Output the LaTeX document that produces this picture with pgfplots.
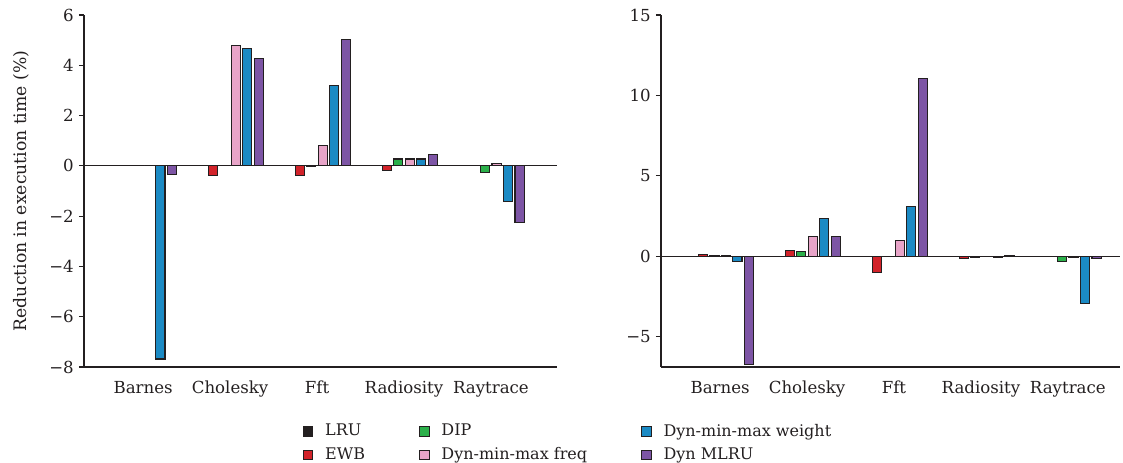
\documentclass[border=0pt]{standalone}
\usepackage{pgfplots}
\pgfplotsset{compat=1.18}
\usepackage{pgfplotstable}
\usepackage{fontspec}
\setmainfont{DejaVu Serif}

\definecolor{cLRU}{HTML}{231F20}
\definecolor{cEWB}{HTML}{D2232A}
\definecolor{cDIP}{HTML}{2BB04A}
\definecolor{cFreq}{HTML}{E8A4C8}
\definecolor{cWeight}{HTML}{1B8AC4}
\definecolor{cMLRU}{HTML}{7D55A5}
\definecolor{axisgray}{HTML}{231F20}

% Reduction in execution time (%) per benchmark, two configurations
\pgfplotstableread{
x  LRU   EWB    DIP    Freq   Weight  MLRU
0  0.00  0.03   0.02   0.00   -7.68   -0.35
1  0.00  -0.38  0.00   4.79   4.68    4.28
2  0.00  -0.38  -0.02  0.81   3.18    5.04
3  0.00  -0.20  0.27   0.27   0.27    0.44
4  0.00  0.00   -0.25  0.09   -1.42   -2.25
}\tableA
\pgfplotstableread{
x  LRU   EWB    DIP    Freq   Weight  MLRU
0  0.00  0.12   0.03   0.03   -0.35   -6.74
1  0.00  0.37   0.29   1.24   2.34    1.24
2  0.00  -1.01  0.00   0.95   3.11    11.06
3  0.00  -0.17  -0.05  0.00   -0.05   0.03
4  0.00  0.00   -0.35  -0.05  -2.95   -0.14
}\tableB

\pgfplotsset{
  benchaxis/.style={
    scale only axis,
    height=176pt,
    ybar,
    bar width=0.105,
    axis x line*=bottom,
    axis y line*=left,
    axis line style={axisgray, line width=0.6pt},
    xtick={0,1,2,3,4},
    xticklabels={Barnes,Cholesky,Fft,Radiosity,Raytrace},
    x tick style={draw=none},
    xticklabel style={yshift=-1pt},
    ytick style={axisgray, line width=0.6pt},
    tick align=outside,
    major tick length=2.6pt,
    yticklabel style={xshift=1pt},
    ticklabel style={font=\rmfamily\fontsize{8.3}{10}\selectfont, text=axisgray},
    label style={font=\rmfamily\fontsize{8.6}{10}\selectfont, text=axisgray},
    every axis plot/.append style={draw=axisgray, line width=0.6pt},
    clip=false,
  },
  lru/.style={fill=cLRU, bar shift=-0.330},
  ewb/.style={fill=cEWB, bar shift=-0.198},
  dip/.style={fill=cDIP, bar shift=-0.066},
  freq/.style={fill=cFreq, bar shift=0.066},
  weight/.style={fill=cWeight, bar shift=0.198},
  mlru/.style={fill=cMLRU, bar shift=0.330},
}

\begin{document}
\begin{tikzpicture}
\useasboundingbox (0,0) rectangle (561.5pt,231pt);

% left panel
\begin{axis}[benchaxis,
  at={(42pt,47.5pt)}, anchor=south west,
  width=236.5pt,
  xmin=-0.68, xmax=4.76,
  ymin=-8, ymax=6,
  ytick={-8,-6,-4,-2,0,2,4,6},
  yticklabels={−8,−6,−4,−2,0,2,4,6},
  ylabel={Reduction in execution time (\%)},
  ylabel style={yshift=3pt},
  legend columns=2,
  transpose legend,
  legend cell align=left,
  legend style={draw=none, fill=none,
    at={(0.449,-0.138)}, anchor=north west,
    font=\rmfamily\fontsize{8}{10}\selectfont,
    text=axisgray,
    row sep=0pt,
    /tikz/every odd column/.append style={column sep=4pt},
    /tikz/every even column/.append style={column sep=25pt}},
  legend image code/.code={\draw[#1, line width=0.4pt] (0pt,-2.4pt) rectangle (4.8pt,2.4pt);},
]
\draw[axisgray, line width=0.6pt] (axis cs:-0.68,0) -- (axis cs:4.76,0);
\addplot[lru]    table[x=x, y=LRU]    {\tableA};
\addplot[ewb]    table[x=x, y=EWB]    {\tableA};
\addplot[dip]    table[x=x, y=DIP]    {\tableA};
\addplot[freq]   table[x=x, y=Freq]   {\tableA};
\addplot[weight] table[x=x, y=Weight] {\tableA};
\addplot[mlru]   table[x=x, y=MLRU]   {\tableA};
\legend{LRU,EWB,DIP,Dyn-min-max freq,Dyn-min-max weight,Dyn MLRU}
\end{axis}

% right panel
\begin{axis}[benchaxis,
  at={(330.5pt,47.5pt)}, anchor=south west,
  width=229.5pt,
  xmin=-0.68, xmax=4.6,
  ymin=-6.9, ymax=15,
  ytick={-5,0,5,10,15},
  yticklabels={−5,0,5,10,15},
]
\draw[axisgray, line width=0.6pt] (axis cs:-0.68,0) -- (axis cs:4.6,0);
\addplot[lru]    table[x=x, y=LRU]    {\tableB};
\addplot[ewb]    table[x=x, y=EWB]    {\tableB};
\addplot[dip]    table[x=x, y=DIP]    {\tableB};
\addplot[freq]   table[x=x, y=Freq]   {\tableB};
\addplot[weight] table[x=x, y=Weight] {\tableB};
\addplot[mlru]   table[x=x, y=MLRU]   {\tableB};
\end{axis}
\end{tikzpicture}
\end{document}
